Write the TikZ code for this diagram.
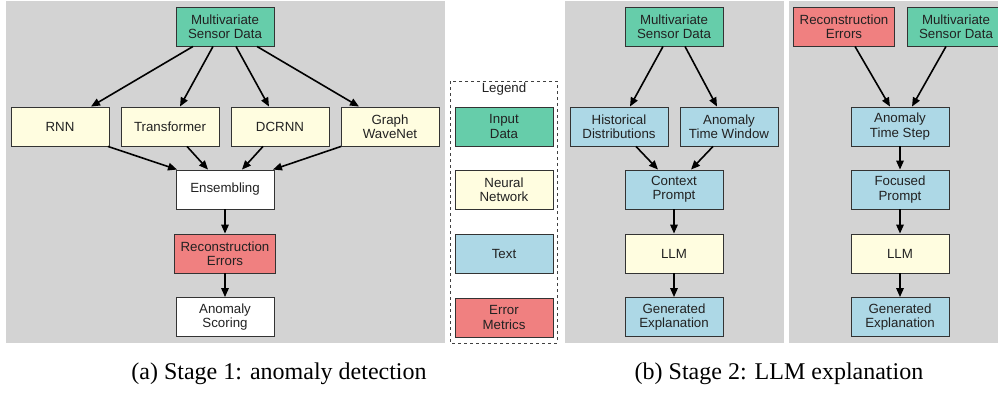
\documentclass[tikz,border=0pt]{standalone}
\usepackage{fontspec}
\setmainfont{Liberation Serif}
\setsansfont{Liberation Sans}
\usetikzlibrary{arrows.meta}

\definecolor{panelgray}{HTML}{D3D3D3}
\definecolor{inputgreen}{HTML}{66CDAA}
\definecolor{nnyellow}{HTML}{FFFDE0}
\definecolor{textblue}{HTML}{ADD8E6}
\definecolor{errred}{HTML}{F08080}
\definecolor{boxline}{HTML}{333333}
\definecolor{boxtext}{HTML}{222222}

\tikzset{
  box/.style={draw=boxline, line width=0.9pt, minimum width=98pt, minimum height=39pt,
    inner xsep=6.5pt, inner ysep=2pt, align=center, text=boxtext,
    font=\sffamily\fontsize{13.3}{14.3}\selectfont},
  inbox/.style={box, fill=inputgreen},
  nnbox/.style={box, fill=nnyellow},
  txtbox/.style={box, fill=textblue},
  errbox/.style={box, fill=errred},
  plainbox/.style={box, fill=white},
  flow/.style={line width=1.6pt, draw=black, -{Triangle[length=9pt,width=7.5pt]}},
  caption/.style={anchor=base, font=\fontsize{24}{28}\selectfont},
}

\begin{document}
\begin{tikzpicture}[x=1pt, y=-1pt]
\useasboundingbox (0,0) rectangle (998,392);
\clip (0,0) rectangle (998,392);

% panel backgrounds
\fill[panelgray] (6,1) rectangle (445,343);
\fill[panelgray] (565,1) rectangle (784,343);
\fill[panelgray] (789,1) rectangle (998,343);

% ---- Stage 1: anomaly detection ----
\node[inbox] (s1in) at (225,26.5) {Multivariate\\Sensor Data};
\node[nnbox] (rnn) at (60,126.5) {RNN};
\node[nnbox] (trf) at (170,126.5) {Transformer};
\node[nnbox] (dcr) at (280,126.5) {DCRNN};
\node[nnbox] (gwn) at (390,126.5) {Graph\\WaveNet};
\node[plainbox] (ens) at (225,189.5) {Ensembling};
\node[errbox] (s1err) at (225,253.5) {Reconstruction\\Errors};
\node[plainbox] (score) at (225,317) {Anomaly\\Scoring};

\draw[flow] ([xshift=-32pt]s1in.south) -- ([xshift=31pt]rnn.north);
\draw[flow] ([xshift=-12pt]s1in.south) -- ([xshift=10pt]trf.north);
\draw[flow] ([xshift=11pt]s1in.south) -- ([xshift=-11pt]dcr.north);
\draw[flow] ([xshift=32pt]s1in.south) -- ([xshift=-31pt]gwn.north);
\draw[flow] ([xshift=48pt]rnn.south) -- ([xshift=-48pt]ens.north);
\draw[flow] ([xshift=17pt]trf.south) -- ([xshift=-17pt]ens.north);
\draw[flow] ([xshift=-17pt]dcr.south) -- ([xshift=17pt]ens.north);
\draw[flow] ([xshift=-49pt]gwn.south) -- ([xshift=48pt]ens.north);
\draw[flow] (ens) -- (s1err);
\draw[flow] (s1err) -- (score);

% ---- Legend ----
\draw[dashed, draw=black!75, line width=0.8pt] (450,81) rectangle (557,343);
\node[text=boxtext, font=\sffamily\fontsize{13.3}{14.3}\selectfont] (legtitle) at (504,89) {Legend};
\node[inbox] (lgin) at (504,126.5) {Input\\Data};
\node[nnbox] (lgnn) at (504,189.5) {Neural\\Network};
\node[txtbox] (lgtxt) at (504,253.5) {Text};
\node[errbox] (lgerr) at (504,317.5) {Error\\Metrics};

% ---- Stage 2: context explanation ----
\node[inbox] (ctin) at (674,26.5) {Multivariate\\Sensor Data};
\node[txtbox] (hist) at (619,126.5) {Historical\\Distributions};
\node[txtbox] (win) at (729,126.5) {Anomaly\\Time Window};
\node[txtbox] (ctx) at (674,189.5) {Context\\Prompt};
\node[nnbox] (llma) at (674,253.5) {LLM};
\node[txtbox] (expa) at (674,317) {Generated\\Explanation};

\draw[flow] ([xshift=-11pt]ctin.south) -- ([xshift=11pt]hist.north);
\draw[flow] ([xshift=11pt]ctin.south) -- ([xshift=-12pt]win.north);
\draw[flow] ([xshift=17pt]hist.south) -- ([xshift=-16pt]ctx.north);
\draw[flow] ([xshift=-16pt]win.south) -- ([xshift=17pt]ctx.north);
\draw[flow] (ctx) -- (llma);
\draw[flow] (llma) -- (expa);

% ---- Stage 2: focused explanation ----
\node[errbox] (fcerr) at (844,26.5) {Reconstruction\\Errors};
\node[inbox] (fcin) at (956,26.5) {Multivariate\\Sensor Data};
\node[txtbox] (tstep) at (900,126.5) {Anomaly\\Time Step};
\node[txtbox] (foc) at (900,189.5) {Focused\\Prompt};
\node[nnbox] (llmb) at (900,253.5) {LLM};
\node[txtbox] (expb) at (900,317) {Generated\\Explanation};

\draw[flow] ([xshift=11pt]fcerr.south) -- ([xshift=-10pt]tstep.north);
\draw[flow] ([xshift=-10pt]fcin.south) -- ([xshift=12pt]tstep.north);
\draw[flow] (tstep) -- (foc);
\draw[flow] (foc) -- (llmb);
\draw[flow] (llmb) -- (expb);

% ---- captions ----
\node[caption] (capa) at (279,379) {(a) Stage 1: anomaly detection};
\node[caption] (capb) at (779,379) {(b) Stage 2: LLM explanation};
\end{tikzpicture}
\end{document}
